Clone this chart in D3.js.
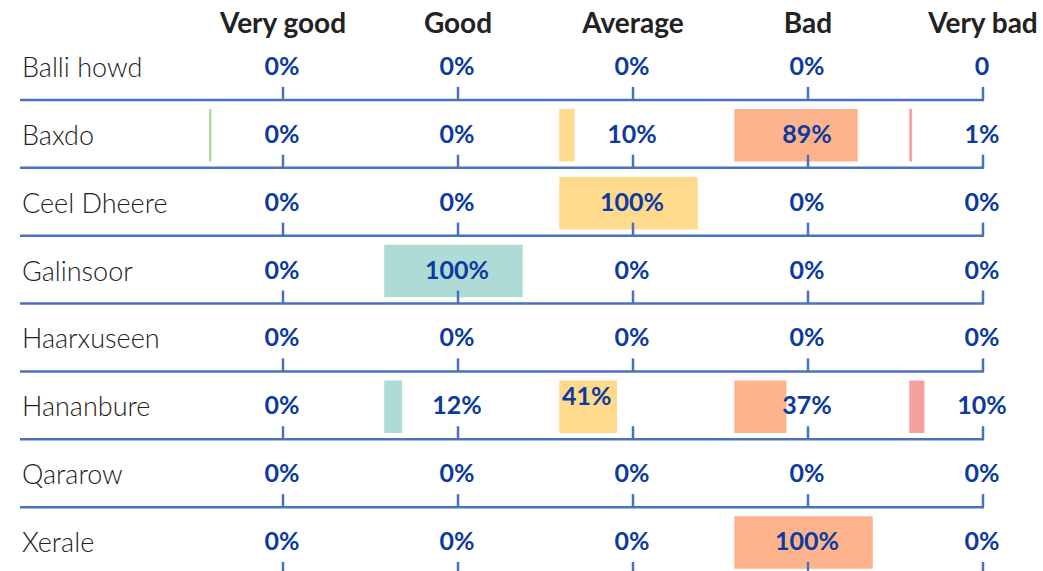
<!DOCTYPE html>
<html>
<head>
<meta charset="utf-8">
<script src="https://cdn.jsdelivr.net/npm/d3@7"></script>
<style>
  body { margin: 0; background: #fff; }
  svg text { font-family: Lato, "Open Sans", sans-serif; }
</style>
</head>
<body>
<div id="vis"></div>
<script>
var categories = ["Very good", "Good", "Average", "Bad", "Very bad"];
var districts = ["Balli howd", "Baxdo", "Ceel Dheere", "Galinsoor", "Haarxuseen", "Hananbure", "Qararow", "Xerale"];

// percent per district, one array per rating (null = no answers, shown as "0")
var veryGood = [0, 0.4, 0, 0, 0, 0, 0, 0];
var good     = [0, 0, 0, 100, 0, 12, 0, 0];
var average  = [0, 10, 100, 0, 0, 41, 0, 0];
var bad      = [0, 89, 0, 0, 0, 37, 0, 100];
var veryBad  = [null, 1, 0, 0, 0, 10, 0, 0];

var series = [veryGood, good, average, bad, veryBad];
var colors = ["#a9d18e", "#afdbd7", "#ffda8c", "#fdb48c", "#f5a19d"];

var width = 1043, height = 571;

var svg = d3.select("#vis")
    .append("svg")
    .attr("width", width)
    .attr("height", height);

// column centres (where the ticks sit)
var x = d3.scalePoint().domain(categories).range([283, 983]);
// bar length
var w = d3.scaleLinear().domain([0, 100]).range([0, 137]);
// each row is a band, its axis line on the bottom edge
var y = d3.scaleBand().domain(districts).range([32, 575]).paddingInner(0);

var barOffset = 73;
var fmt = function (v) { return v == null ? "0" : Math.round(v) + "%"; };

// headers
svg.selectAll(".header")
    .data(categories)
    .enter().append("text")
    .attr("class", "header")
    .attr("x", d => x(d))
    .attr("y", 33)
    .attr("text-anchor", "middle")
    .attr("font-size", 28)
    .attr("font-weight", 700)
    .attr("fill", "#222")
    .text(d => d);

var rows = svg.selectAll(".row")
    .data(districts)
    .enter().append("g")
    .attr("class", "row")
    .attr("transform", d => "translate(0," + (y(d) + y.bandwidth()) + ")");

rows.append("text")
    .attr("x", 22)
    .attr("y", -23)
    .attr("font-size", 27)
    .attr("font-weight", 300)
    .attr("fill", "#222")
    .text(d => d);

// bars
rows.each(function (dist, i) {
    var g = d3.select(this);
    var cells = categories.map((c, j) => ({ cat: c, j: j, v: series[j][i], dist: dist }));

    g.selectAll(".bar")
        .data(cells.filter(c => c.v > 0))
        .enter().append("rect")
        .attr("class", "bar")
        .attr("x", c => x(c.cat) - barOffset)
        .attr("y", -58)
        .attr("width", c => w(c.v))
        .attr("height", 51)
        .attr("fill", c => colors[c.j])
        .attr("stroke", c => colors[c.j])
        .attr("stroke-width", 1.5);

    // axis line with upward ticks
    g.append("line")
        .attr("x1", 20).attr("x2", x("Very bad") + 1)
        .attr("y1", 0).attr("y2", 0)
        .attr("stroke", "#4a70c0")
        .attr("stroke-width", 2.5);

    g.selectAll(".tick")
        .data(categories)
        .enter().append("line")
        .attr("class", "tick")
        .attr("x1", d => x(d)).attr("x2", d => x(d))
        .attr("y1", 0).attr("y2", -13)
        .attr("stroke", "#4a70c0")
        .attr("stroke-width", 2.5);

    g.selectAll(".val")
        .data(cells)
        .enter().append("text")
        .attr("class", "val")
        .attr("x", function (c) {
            // Hananbure average label sits inside the bar's start
            if (c.dist == "Hananbure" && c.cat == "Average") return x(c.cat) - barOffset + 2;
            return x(c.cat) - 1;
        })
        .attr("y", c => (c.dist == "Hananbure" && c.cat == "Average") ? -34 : -25)
        .attr("text-anchor", c => (c.dist == "Hananbure" && c.cat == "Average") ? "start" : "middle")
        .attr("font-size", 25)
        .attr("font-weight", 700)
        .attr("fill", "#0c3a9e")
        .text(c => fmt(c.v));
});
</script>
</body>
</html>
